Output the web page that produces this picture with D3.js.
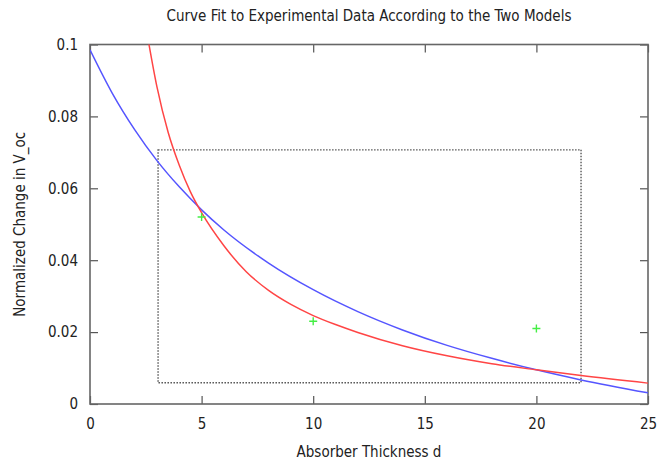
<!DOCTYPE html>
<html lang="en">
<head>
<meta charset="UTF-8">
<title>curve-fit</title>
<script src="https://cdn.jsdelivr.net/npm/d3@7"></script>
<style>
  body { margin: 0; background: #fff; }
  text { font-family: "DejaVu Sans Condensed", "DejaVu Sans", sans-serif; fill: #222; }
</style>
</head>
<body>
<script>
// measured points (x = thickness d, y = normalized change)
let dataX = [5, 10, 20];
let dataY = [0.052, 0.023, 0.021];

// model 1 (blue)
let blueX = [0, 1, 2, 3, 4, 5, 6, 8, 10, 12, 14, 16, 18, 20, 22, 25];
let blueY = [0.0985, 0.0864, 0.0763, 0.0677, 0.0604, 0.0540, 0.0484, 0.0392, 0.0318, 0.0257, 0.0206, 0.0163, 0.0127, 0.0095, 0.0067, 0.0031];

// model 2 (red)
let redX = [2.6, 3, 3.5, 4, 4.5, 5, 6, 7, 8, 9, 10, 11, 12, 14, 16, 18, 20, 22, 25];
let redY = [0.1015, 0.0882, 0.0756, 0.0664, 0.0590, 0.0532, 0.0440, 0.0368, 0.0316, 0.0277, 0.0246, 0.0221, 0.0199, 0.0162, 0.0134, 0.0112, 0.0095, 0.0079, 0.0058];

// dotted box
let boxX = [3.05, 22.0];
let boxY = [0.0059, 0.0707];

let xTicks = [0, 5, 10, 15, 20, 25];
let yTicks = [0, 0.02, 0.04, 0.06, 0.08, 0.1];

let width = 657, height = 463;
let margins = {top: 44.5, left: 90, right: 9, bottom: 59};
let fontSize = 15;

let svg = d3.select('body').append('svg')
  .attr('width', width)
  .attr('height', height);

let x = d3.scaleLinear().domain([0, 25]).range([margins.left, width - margins.right]);
let y = d3.scaleLinear().domain([0, 0.1]).range([height - margins.bottom, margins.top]);

svg.append('defs').append('clipPath')
  .attr('id', 'plot-clip')
  .append('rect')
  .attr('x', x(0)).attr('y', y(0.1))
  .attr('width', x(25) - x(0)).attr('height', y(0) - y(0.1));

// axes with inward ticks on all four sides
let tickFmt = function (d) { return d === 0 ? '0' : String(+d.toFixed(2)); };

svg.append('g')
  .attr('transform', 'translate(0,' + y(0) + ')')
  .call(d3.axisBottom(x).tickValues(xTicks).tickSizeInner(-8).tickSizeOuter(0).tickPadding(14))
  .call(function (g) { g.select('.domain').remove(); });

svg.append('g')
  .attr('transform', 'translate(0,' + y(0.1) + ')')
  .call(d3.axisTop(x).tickValues(xTicks).tickSizeInner(-8).tickSizeOuter(0).tickFormat(''))
  .call(function (g) { g.select('.domain').remove(); });

svg.append('g')
  .attr('transform', 'translate(' + x(0) + ',0)')
  .call(d3.axisLeft(y).tickValues(yTicks).tickSizeInner(-8).tickSizeOuter(0).tickPadding(12).tickFormat(tickFmt))
  .call(function (g) { g.select('.domain').remove(); });

svg.append('g')
  .attr('transform', 'translate(' + x(25) + ',0)')
  .call(d3.axisRight(y).tickValues(yTicks).tickSizeInner(-8).tickSizeOuter(0).tickFormat(''))
  .call(function (g) { g.select('.domain').remove(); });

svg.selectAll('.tick line').attr('stroke', '#555').attr('stroke-width', 1.2);
svg.selectAll('.tick text')
  .attr('font-family', '"DejaVu Sans Condensed", "DejaVu Sans", sans-serif')
  .attr('font-size', fontSize)
  .attr('fill', '#222');

// frame
svg.append('rect')
  .attr('x', x(0)).attr('y', y(0.1))
  .attr('width', x(25) - x(0)).attr('height', y(0) - y(0.1))
  .attr('fill', 'none')
  .attr('stroke', '#666')
  .attr('stroke-width', 1.6);

let body = svg.append('g').attr('clip-path', 'url(#plot-clip)');

// dotted box
body.append('rect')
  .attr('x', x(boxX[0])).attr('y', y(boxY[1]))
  .attr('width', x(boxX[1]) - x(boxX[0]))
  .attr('height', y(boxY[0]) - y(boxY[1]))
  .attr('fill', 'none')
  .attr('stroke', '#555')
  .attr('stroke-width', 1.4)
  .attr('stroke-dasharray', '1.5,1.5');

let line = d3.line()
  .x(function (d) { return x(d[0]); })
  .y(function (d) { return y(d[1]); })
  .curve(d3.curveMonotoneX);

body.append('path')
  .datum(d3.zip(blueX, blueY))
  .attr('d', line)
  .attr('fill', 'none')
  .attr('stroke', '#5555ff')
  .attr('stroke-width', 1.5);

body.append('path')
  .datum(d3.zip(redX, redY))
  .attr('d', line)
  .attr('fill', 'none')
  .attr('stroke', '#ff4545')
  .attr('stroke-width', 1.5);

// data points as + marks
body.selectAll('path.pt')
  .data(d3.zip(dataX, dataY))
  .enter()
  .append('path')
  .attr('class', 'pt')
  .attr('transform', function (d) { return 'translate(' + x(d[0]) + ',' + y(d[1]) + ')'; })
  .attr('d', 'M-4,0H4M0,-4V4')
  .attr('stroke', '#44ee44')
  .attr('stroke-width', 1.4);

// titles
svg.append('text')
  .attr('x', (x(0) + x(25)) / 2)
  .attr('y', 21)
  .attr('text-anchor', 'middle')
  .attr('font-size', fontSize)
  .text('Curve Fit to Experimental Data According to the Two Models');

svg.append('text')
  .attr('x', (x(0) + x(25)) / 2)
  .attr('y', 457)
  .attr('text-anchor', 'middle')
  .attr('font-size', fontSize)
  .text('Absorber Thickness d');

svg.append('text')
  .attr('transform', 'translate(25,' + (y(0) + y(0.1)) / 2 + ') rotate(-90)')
  .attr('text-anchor', 'middle')
  .attr('font-size', fontSize)
  .text('Normalized Change in V_oc');
</script>
</body>
</html>
